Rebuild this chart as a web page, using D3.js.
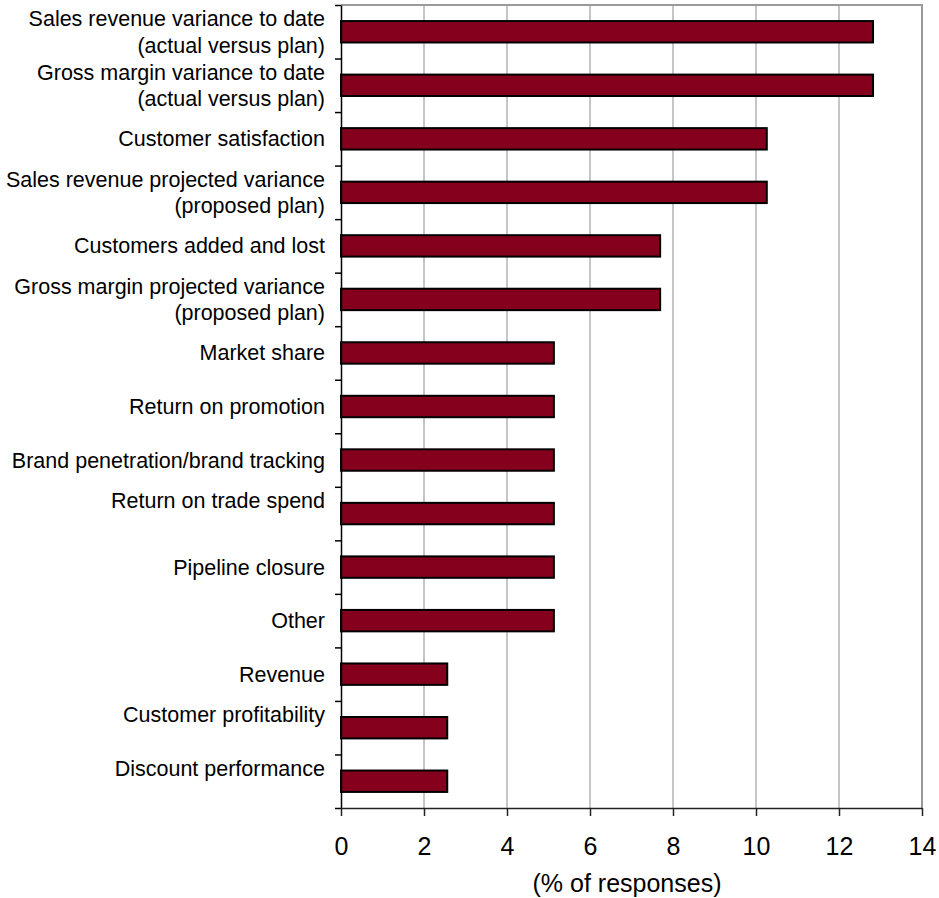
<!DOCTYPE html>
<html>
<head>
<meta charset="utf-8">
<script src="https://cdn.jsdelivr.net/npm/d3@7"></script>
<style>
  body { margin: 0; background: #fff; }
  svg { display: block; font-family: Arial, "Liberation Sans", sans-serif; }
</style>
</head>
<body>
<svg width="939" height="898"></svg>
<script>
// categories, top to bottom ("\n" = line break, trailing one leaves a blank line)
const categories = [
  "Sales revenue variance to date\n(actual versus plan)",
  "Gross margin variance to date\n(actual versus plan)",
  "Customer satisfaction",
  "Sales revenue projected variance\n(proposed plan)",
  "Customers added and lost",
  "Gross margin projected variance\n(proposed plan)",
  "Market share",
  "Return on promotion",
  "Brand penetration/brand tracking",
  "Return on trade spend\n",
  "Pipeline closure",
  "Other",
  "Revenue",
  "Customer profitability\n",
  "Discount performance\n"
];
const values = [12.82, 12.82, 10.26, 10.26, 7.69, 7.69, 5.13, 5.13, 5.13, 5.13, 5.13, 5.13, 2.56, 2.56, 2.56];
const xTicks = [0, 2, 4, 6, 8, 10, 12, 14];
const xTitle = "(% of responses)";

const svg = d3.select("svg");
const plotL = 341, plotR = 922, plotT = 5, plotB = 808;

const x = d3.scaleLinear().domain([0, 14]).range([plotL, plotR]);
const y = d3.scaleBand().domain(categories).range([plotT, plotB])
  .paddingInner(0.6).paddingOuter(0.3);
// band edges, for the left axis ticks
const yEdge = d3.scaleLinear().domain([0, categories.length]).range([plotT, plotB]);

// gridlines
svg.append("g")
  .selectAll("line")
  .data(xTicks.filter(d => d > 0 && d < 14))
  .enter().append("line")
  .attr("x1", d => x(d)).attr("x2", d => x(d))
  .attr("y1", plotT).attr("y2", plotB)
  .style("stroke", "#8c8c8c").style("stroke-width", 1);

// top and right frame
svg.append("path")
  .attr("d", `M${plotL},${plotT}H${plotR}V${plotB}`)
  .attr("fill", "none")
  .style("stroke", "#9a9a9a").style("stroke-width", 2);

// bars
svg.append("g")
  .selectAll("rect")
  .data(values)
  .enter().append("rect")
  .attr("x", x(0))
  .attr("y", (d, i) => y(categories[i]))
  .attr("width", d => x(d) - x(0))
  .attr("height", y.bandwidth())
  .attr("fill", "#84001c")
  .style("stroke", "#000").style("stroke-width", 2);

// left axis (ticks on band edges)
const yAxis = svg.append("g")
  .attr("transform", `translate(${plotL},0)`)
  .call(d3.axisLeft(yEdge).tickValues(d3.range(categories.length + 1))
    .tickFormat("").tickSizeInner(6).tickSizeOuter(0));
yAxis.select(".domain").style("stroke", "#000").style("stroke-width", 1.5);
yAxis.selectAll(".tick line").style("stroke", "#000").style("stroke-width", 1.5);

// category labels
const lineH = 26.5;
const labels = svg.append("g")
  .selectAll("text")
  .data(categories)
  .enter().append("text")
  .attr("text-anchor", "end")
  .style("font-size", "21.5px")
  .attr("fill", "#000");
labels.each(function (d) {
  const lines = d.split("\n");
  const cy = y(d) + y.bandwidth() / 2;
  const y0 = cy - (lines.length - 1) * lineH / 2;
  d3.select(this).selectAll("tspan")
    .data(lines)
    .enter().append("tspan")
    .attr("x", 325)
    .attr("y", (l, j) => y0 + j * lineH)
    .attr("dy", "0.35em")
    .text(l => l);
});

// bottom axis
const xAxis = svg.append("g")
  .attr("transform", `translate(0,${plotB})`)
  .call(d3.axisBottom(x).tickValues(xTicks).tickSizeInner(8).tickSizeOuter(0).tickPadding(21));
xAxis.select(".domain").style("stroke", "#222").style("stroke-width", 1.5);
xAxis.selectAll(".tick line").style("stroke", "#222").style("stroke-width", 1.5);
xAxis.selectAll("text")
  .style("font-size", "25px")
  .style("font-family", "Arial, 'Liberation Sans', sans-serif")
  .attr("fill", "#000");

// axis title
svg.append("text")
  .attr("x", 627)
  .attr("y", 892)
  .attr("text-anchor", "middle")
  .style("font-size", "25px")
  .attr("fill", "#000")
  .text(xTitle);
</script>
</body>
</html>
